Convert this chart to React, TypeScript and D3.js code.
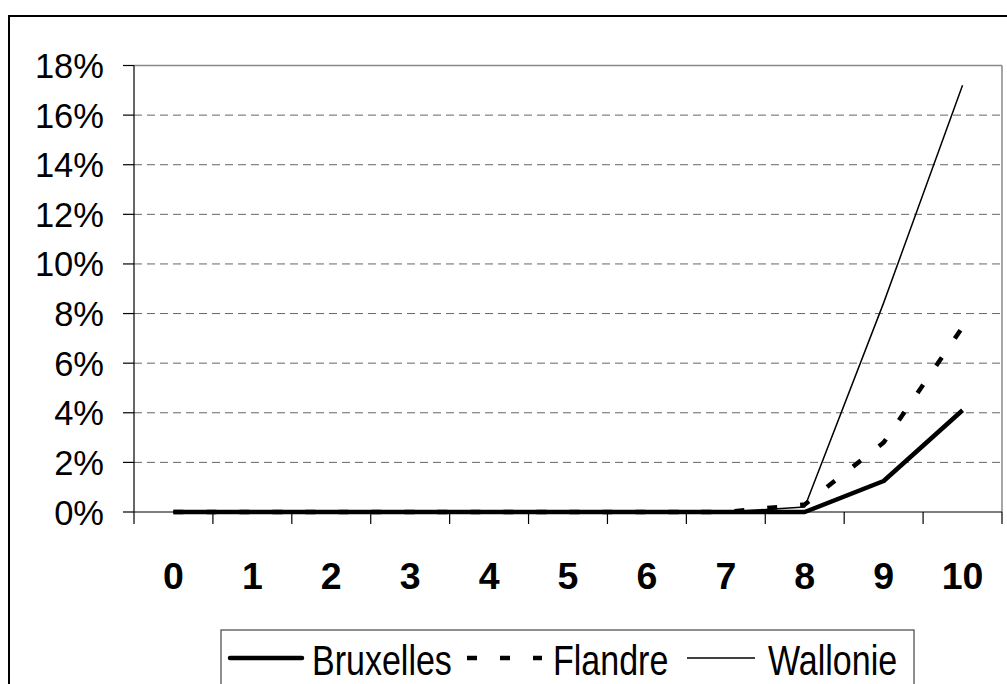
import React from 'react';
import * as d3 from 'd3';

const categories = ['0', '1', '2', '3', '4', '5', '6', '7', '8', '9', '10'];
const bruxelles = [0, 0, 0, 0, 0, 0, 0, 0, 0, 0.0125, 0.041];
const flandre = [0, 0, 0, 0, 0, 0, 0, 0, 0.003, 0.028, 0.0745];
const wallonie = [0, 0, 0, 0, 0, 0, 0, 0, 0.002, 0.0843, 0.172];
const yTicks = [0, 0.02, 0.04, 0.06, 0.08, 0.1, 0.12, 0.14, 0.16, 0.18];
const seriesNames = ['Bruxelles', 'Flandre', 'Wallonie'];

const W = 1007;
const H = 684;
const FONT = '"Liberation Sans", Arial, sans-serif';

export default function App() {
  const left = 134;
  const right = 1002;
  const top = 65.5;
  const bottom = 512;

  const x = d3.scaleBand<string>().domain(categories).range([left, right]).padding(0);
  const y = d3.scaleLinear().domain([0, 0.18]).range([bottom, top]);
  const cx = (c: string) => (x(c) as number) + x.bandwidth() / 2;
  const fmt = d3.format('.0%');

  const line = d3
    .line<number>()
    .x((_, i) => cx(categories[i]))
    .y((d) => y(d));

  const styles = [
    { data: bruxelles, width: 4.5, dash: undefined as string | undefined },
    { data: flandre, width: 4.5, dash: '10 23' },
    { data: wallonie, width: 1.5, dash: undefined as string | undefined },
  ];

  const legendSamples = [
    { x1: 230, x2: 302, tx: 312 },
    { x1: 467, x2: 542, tx: 553 },
    { x1: 687, x2: 755, tx: 768 },
  ];

  const boundaries = categories.map((c) => x(c) as number).concat([right]);

  return (
    <svg
      width={W}
      height={H}
      style={{ position: 'absolute', left: 0, top: 0, background: '#fff' }}
      fontFamily={FONT}
    >
      <rect x={0} y={0} width={W} height={H} fill="#fff" />
      {/* outer frame */}
      <rect x={9} y={16} width={1020} height={700} fill="none" stroke="#000" strokeWidth={2} />

      {/* gridlines */}
      {yTicks.slice(1, -1).map((t) => (
        <line
          key={'g' + t}
          x1={left}
          x2={right}
          y1={y(t)}
          y2={y(t)}
          stroke="#666"
          strokeWidth={1}
          strokeDasharray="8 5"
        />
      ))}
      {/* plot area top/right border */}
      <line x1={left} x2={right} y1={y(0.18)} y2={y(0.18)} stroke="#888" strokeWidth={1.5} />
      <line x1={right} x2={right} y1={y(0.18)} y2={bottom} stroke="#888" strokeWidth={1.5} />

      {/* y axis */}
      <line x1={left} x2={left} y1={top} y2={bottom} stroke="#000" strokeWidth={1.2} />
      {yTicks.map((t) => (
        <g key={'t' + t}>
          <line x1={123} x2={left} y1={y(t)} y2={y(t)} stroke="#000" strokeWidth={1.2} />
          <text x={104} y={y(t) + 12.5} textAnchor="end" fontSize={34.5} fill="#000">
            {fmt(t)}
          </text>
        </g>
      ))}

      {/* x axis */}
      <line x1={left} x2={right} y1={bottom} y2={bottom} stroke="#000" strokeWidth={1.2} />
      {boundaries.map((b, i) => (
        <line key={'xb' + i} x1={b} x2={b} y1={bottom} y2={bottom + 12} stroke="#000" strokeWidth={1.2} />
      ))}
      {categories.map((c) => (
        <text key={'xl' + c} x={cx(c)} y={589} textAnchor="middle" fontSize={37.5} fontWeight="bold" fill="#000">
          {c}
        </text>
      ))}

      {/* series */}
      {styles.map((s, i) => (
        <path
          key={'s' + i}
          d={line(s.data) as string}
          fill="none"
          stroke="#000"
          strokeWidth={s.width}
          strokeDasharray={s.dash}
          strokeLinejoin="round"
        />
      ))}

      {/* legend */}
      <rect x={221} y={630} width={693} height={80} fill="#fff" stroke="#444" strokeWidth={1.2} />
      {seriesNames.map((n, i) => (
        <g key={'lg' + n}>
          <line
            x1={legendSamples[i].x1}
            x2={legendSamples[i].x2}
            y1={658}
            y2={658}
            stroke="#000"
            strokeWidth={styles[i].width}
            strokeDasharray={styles[i].dash}
            strokeLinecap={i === 0 ? 'round' : 'butt'}
          />
          <text
            transform={`translate(${legendSamples[i].tx},675) scale(0.81,1)`}
            fontSize={42}
            fill="#000"
          >
            {n}
          </text>
        </g>
      ))}
    </svg>
  );
}
